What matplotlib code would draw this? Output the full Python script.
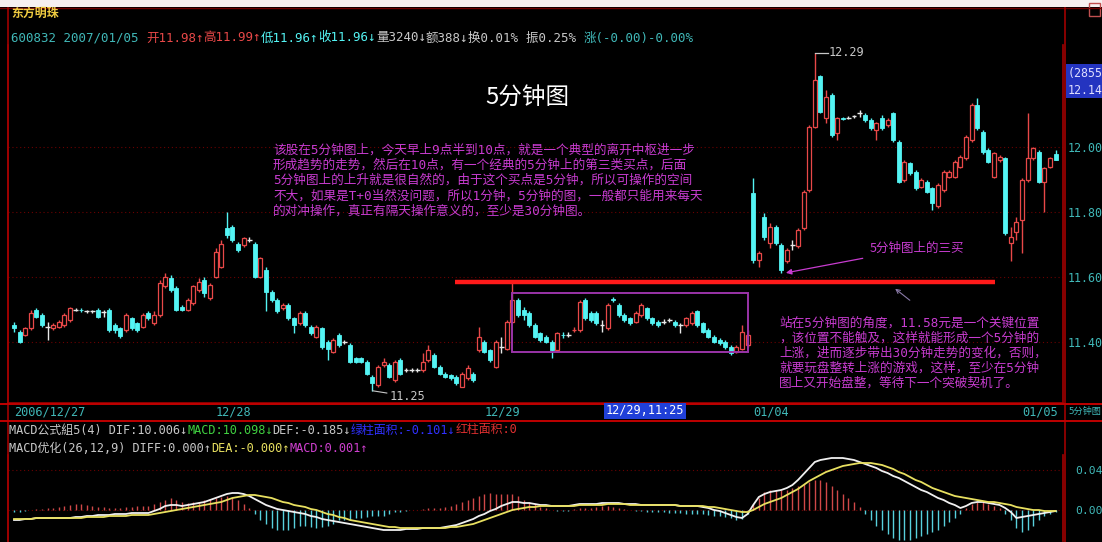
import numpy as np
import matplotlib
matplotlib.use('Agg')
import matplotlib.pyplot as plt
from matplotlib.patches import Rectangle
from matplotlib.lines import Line2D

# ---------------- data ----------------
stock_name = '东方明珠'
stock_code = '600832'
quote_date = '2007/01/05'
session_starts = [0, 36, 84, 132, 180]
session_labels = ['2006/12/27', '12/28', '12/29', '01/04', '01/05']
price_ticks = [11.4, 11.6, 11.8, 12.0]
key_level = 11.585

opens = [11.452, 11.432, 11.422, 11.442, 11.499, 11.483, 11.447, 11.442, 11.447, 11.452,
         11.468, 11.500, 11.499, 11.495, 11.494, 11.499, 11.493, 11.499, 11.452, 11.442,
         11.437, 11.473, 11.458, 11.447, 11.488, 11.458, 11.483, 11.571, 11.596, 11.565,
         11.509, 11.499, 11.519, 11.560, 11.591, 11.535, 11.601, 11.632, 11.750, 11.755,
         11.703, 11.698, 11.716, 11.703, 11.601, 11.622, 11.555, 11.530, 11.504, 11.514,
         11.473, 11.458, 11.488, 11.447, 11.416, 11.442, 11.401, 11.370, 11.421, 11.402,
         11.391, 11.350, 11.350, 11.339, 11.293, 11.268, 11.329, 11.329, 11.283, 11.344,
         11.315, 11.314, 11.315, 11.314, 11.344, 11.360, 11.324, 11.303, 11.298, 11.293,
         11.262, 11.288, 11.303, 11.375, 11.401, 11.375, 11.324, 11.386, 11.380, 11.463,
         11.530, 11.499, 11.488, 11.452, 11.427, 11.416, 11.401, 11.375, 11.423, 11.421,
         11.436, 11.437, 11.530, 11.488, 11.488, 11.453, 11.442, 11.531, 11.514, 11.483,
         11.473, 11.463, 11.483, 11.504, 11.473, 11.463, 11.464, 11.468, 11.463, 11.453,
         11.452, 11.458, 11.494, 11.458, 11.437, 11.416, 11.406, 11.401, 11.385, 11.370,
         11.380, 11.391, 11.858, 11.653, 11.786, 11.704, 11.755, 11.699, 11.648, 11.700,
         11.694, 11.750, 11.868, 12.063, 12.217, 12.088, 12.160, 12.042, 12.089, 12.091,
         12.093, 12.103, 12.099, 12.083, 12.052, 12.088, 12.068, 12.104, 12.016, 11.899,
         11.950, 11.924, 11.878, 11.893, 11.873, 11.817, 11.868, 11.909, 11.909, 11.939,
         11.965, 12.022, 12.129, 12.047, 11.991, 11.909, 11.960, 11.965, 11.704, 11.740,
         11.776, 11.899, 11.965, 11.986, 11.893, 11.939, 11.980]

highs = [11.462, 11.437, 11.447, 11.498, 11.504, 11.488, 11.463, 11.458, 11.468, 11.488,
         11.509, 11.506, 11.504, 11.500, 11.500, 11.504, 11.499, 11.504, 11.458, 11.447,
         11.488, 11.478, 11.463, 11.488, 11.494, 11.494, 11.591, 11.612, 11.606, 11.571,
         11.514, 11.535, 11.576, 11.596, 11.601, 11.581, 11.688, 11.714, 11.801, 11.760,
         11.708, 11.724, 11.724, 11.708, 11.662, 11.630, 11.560, 11.535, 11.519, 11.519,
         11.478, 11.494, 11.494, 11.452, 11.452, 11.447, 11.406, 11.411, 11.427, 11.406,
         11.396, 11.355, 11.355, 11.344, 11.298, 11.329, 11.350, 11.334, 11.344, 11.350,
         11.319, 11.320, 11.321, 11.365, 11.391, 11.365, 11.329, 11.308, 11.303, 11.298,
         11.308, 11.329, 11.308, 11.447, 11.406, 11.380, 11.406, 11.416, 11.468, 11.586,
         11.535, 11.509, 11.494, 11.458, 11.432, 11.421, 11.406, 11.432, 11.432, 11.430,
         11.445, 11.530, 11.535, 11.494, 11.494, 11.468, 11.519, 11.540, 11.519, 11.488,
         11.478, 11.494, 11.519, 11.509, 11.478, 11.468, 11.470, 11.475, 11.468, 11.458,
         11.478, 11.494, 11.499, 11.463, 11.442, 11.421, 11.411, 11.406, 11.391, 11.391,
         11.452, 11.437, 11.904, 11.680, 11.796, 11.765, 11.760, 11.704, 11.688, 11.714,
         11.750, 11.868, 12.068, 12.290, 12.222, 12.175, 12.165, 12.093, 12.093, 12.096,
         12.099, 12.114, 12.104, 12.088, 12.078, 12.099, 12.088, 12.109, 12.022, 11.960,
         11.955, 11.929, 11.904, 11.899, 11.878, 11.888, 11.929, 11.929, 11.960, 11.975,
         12.037, 12.134, 12.150, 12.052, 11.996, 11.986, 11.975, 11.970, 11.755, 11.786,
         11.904, 12.104, 12.001, 11.991, 11.939, 11.970, 11.990]

lows = [11.432, 11.398, 11.417, 11.437, 11.473, 11.447, 11.406, 11.437, 11.442, 11.447,
        11.463, 11.494, 11.492, 11.488, 11.489, 11.473, 11.478, 11.432, 11.427, 11.412,
        11.432, 11.437, 11.432, 11.442, 11.468, 11.452, 11.478, 11.565, 11.555, 11.494,
        11.494, 11.494, 11.514, 11.555, 11.540, 11.530, 11.596, 11.627, 11.719, 11.708,
        11.678, 11.693, 11.708, 11.596, 11.596, 11.494, 11.524, 11.488, 11.499, 11.468,
        11.427, 11.452, 11.447, 11.421, 11.411, 11.380, 11.344, 11.365, 11.385, 11.395,
        11.334, 11.334, 11.334, 11.298, 11.250, 11.262, 11.324, 11.288, 11.278, 11.298,
        11.308, 11.309, 11.308, 11.309, 11.339, 11.319, 11.298, 11.288, 11.283, 11.268,
        11.262, 11.283, 11.278, 11.370, 11.365, 11.339, 11.319, 11.365, 11.375, 11.458,
        11.478, 11.468, 11.447, 11.411, 11.401, 11.396, 11.350, 11.370, 11.411, 11.414,
        11.430, 11.432, 11.468, 11.463, 11.452, 11.432, 11.437, 11.524, 11.478, 11.463,
        11.452, 11.458, 11.478, 11.468, 11.452, 11.447, 11.456, 11.462, 11.447, 11.427,
        11.447, 11.452, 11.447, 11.427, 11.411, 11.396, 11.391, 11.380, 11.360, 11.365,
        11.375, 11.385, 11.643, 11.630, 11.714, 11.690, 11.699, 11.612, 11.643, 11.683,
        11.688, 11.745, 11.863, 12.057, 12.104, 12.073, 12.032, 12.022, 12.083, 12.085,
        12.088, 12.093, 12.078, 12.052, 12.022, 12.052, 12.063, 12.016, 11.888, 11.893,
        11.914, 11.868, 11.873, 11.858, 11.806, 11.812, 11.863, 11.904, 11.904, 11.934,
        11.960, 12.016, 12.052, 11.980, 11.950, 11.904, 11.955, 11.729, 11.648, 11.714,
        11.673, 11.893, 11.960, 11.888, 11.801, 11.934, 11.960]

closes = [11.442, 11.401, 11.442, 11.488, 11.478, 11.452, 11.445, 11.452, 11.463, 11.483,
          11.504, 11.499, 11.497, 11.494, 11.495, 11.478, 11.492, 11.437, 11.437, 11.417,
          11.483, 11.442, 11.437, 11.483, 11.473, 11.483, 11.581, 11.601, 11.560, 11.499,
          11.499, 11.530, 11.571, 11.586, 11.550, 11.576, 11.678, 11.703, 11.729, 11.714,
          11.683, 11.719, 11.714, 11.601, 11.657, 11.555, 11.530, 11.494, 11.514, 11.473,
          11.452, 11.488, 11.452, 11.427, 11.447, 11.385, 11.380, 11.406, 11.391, 11.400,
          11.339, 11.339, 11.339, 11.303, 11.273, 11.324, 11.339, 11.293, 11.339, 11.303,
          11.313, 11.315, 11.314, 11.339, 11.375, 11.324, 11.303, 11.293, 11.288, 11.273,
          11.303, 11.319, 11.283, 11.416, 11.370, 11.344, 11.401, 11.384, 11.463, 11.530,
          11.483, 11.483, 11.452, 11.416, 11.406, 11.401, 11.375, 11.427, 11.421, 11.422,
          11.438, 11.524, 11.473, 11.468, 11.458, 11.451, 11.514, 11.529, 11.483, 11.468,
          11.458, 11.488, 11.514, 11.473, 11.458, 11.452, 11.463, 11.469, 11.452, 11.452,
          11.473, 11.488, 11.452, 11.432, 11.416, 11.401, 11.396, 11.385, 11.365, 11.385,
          11.432, 11.421, 11.653, 11.673, 11.724, 11.755, 11.704, 11.622, 11.683, 11.698,
          11.745, 11.863, 12.063, 12.206, 12.109, 12.155, 12.037, 12.088, 12.087, 12.090,
          12.094, 12.104, 12.083, 12.057, 12.073, 12.057, 12.083, 12.022, 11.893, 11.955,
          11.919, 11.873, 11.899, 11.863, 11.827, 11.883, 11.924, 11.924, 11.955, 11.970,
          12.032, 12.129, 12.057, 11.986, 11.955, 11.980, 11.970, 11.734, 11.724, 11.770,
          11.899, 11.965, 11.996, 11.893, 11.934, 11.965, 11.960]

diff = [-0.010, -0.010, -0.009, -0.009, -0.008, -0.008, -0.008, -0.008, -0.008, -0.008,
        -0.008, -0.007, -0.007, -0.006, -0.006, -0.005, -0.005, -0.005, -0.004, -0.004,
        -0.004, -0.003, -0.003, -0.003, -0.003, -0.001, 0.001, 0.004, 0.005, 0.005,
        0.004, 0.005, 0.006, 0.007, 0.008, 0.010, 0.012, 0.014, 0.016, 0.017,
        0.017, 0.016, 0.014, 0.011, 0.008, 0.005, 0.003, 0.001, 0.000, -0.001,
        -0.002, -0.003, -0.004, -0.006, -0.007, -0.009, -0.010, -0.011, -0.012, -0.013,
        -0.014, -0.015, -0.016, -0.017, -0.018, -0.019, -0.020, -0.020, -0.020, -0.020,
        -0.019, -0.019, -0.019, -0.018, -0.018, -0.018, -0.018, -0.017, -0.016, -0.015,
        -0.013, -0.011, -0.009, -0.006, -0.004, -0.001, 0.001, 0.004, 0.006, 0.008,
        0.008, 0.007, 0.007, 0.006, 0.005, 0.005, 0.004, 0.004, 0.004, 0.004,
        0.005, 0.006, 0.006, 0.006, 0.006, 0.007, 0.007, 0.007, 0.007, 0.006,
        0.006, 0.006, 0.005, 0.005, 0.005, 0.005, 0.005, 0.005, 0.005, 0.004,
        0.004, 0.004, 0.004, 0.003, 0.002, 0.000, -0.001, -0.003, -0.005, -0.007,
        -0.008, -0.004, 0.005, 0.013, 0.016, 0.018, 0.019, 0.020, 0.022, 0.025,
        0.030, 0.036, 0.042, 0.048, 0.050, 0.051, 0.052, 0.052, 0.052, 0.051,
        0.050, 0.048, 0.046, 0.044, 0.042, 0.039, 0.037, 0.034, 0.032, 0.029,
        0.026, 0.023, 0.020, 0.018, 0.015, 0.012, 0.010, 0.007, 0.005, 0.002,
        0.004, 0.007, 0.008, 0.008, 0.007, 0.006, 0.005, 0.002, -0.002, -0.008,
        -0.007, -0.006, -0.005, -0.004, -0.003, -0.002, -0.001]

dea = [-0.009, -0.009, -0.009, -0.009, -0.008, -0.008, -0.008, -0.008, -0.008, -0.008,
       -0.008, -0.008, -0.008, -0.007, -0.007, -0.007, -0.007, -0.006, -0.006, -0.006,
       -0.006, -0.005, -0.005, -0.005, -0.005, -0.004, -0.003, -0.002, -0.001, 0.000,
       0.001, 0.002, 0.003, 0.004, 0.005, 0.006, 0.007, 0.008, 0.010, 0.012,
       0.013, 0.014, 0.015, 0.015, 0.014, 0.013, 0.012, 0.010, 0.008, 0.007,
       0.005, 0.004, 0.003, 0.001, 0.000, -0.002, -0.004, -0.005, -0.007, -0.008,
       -0.010, -0.011, -0.012, -0.013, -0.014, -0.015, -0.016, -0.017, -0.017, -0.018,
       -0.018, -0.018, -0.018, -0.018, -0.018, -0.018, -0.018, -0.018, -0.017, -0.017,
       -0.016, -0.015, -0.014, -0.012, -0.010, -0.008, -0.006, -0.004, -0.002, 0.000,
       0.001, 0.002, 0.003, 0.003, 0.004, 0.004, 0.004, 0.004, 0.004, 0.004,
       0.004, 0.005, 0.005, 0.005, 0.005, 0.005, 0.006, 0.006, 0.006, 0.006,
       0.005, 0.005, 0.005, 0.005, 0.005, 0.005, 0.005, 0.005, 0.005, 0.004,
       0.004, 0.004, 0.004, 0.004, 0.003, 0.003, 0.002, 0.001, 0.000, -0.001,
       -0.002, -0.002, 0.000, 0.003, 0.006, 0.008, 0.010, 0.012, 0.015, 0.018,
       0.021, 0.025, 0.029, 0.032, 0.035, 0.038, 0.040, 0.042, 0.044, 0.045,
       0.046, 0.047, 0.047, 0.047, 0.046, 0.045, 0.043, 0.041, 0.038, 0.036,
       0.033, 0.030, 0.028, 0.025, 0.022, 0.020, 0.018, 0.016, 0.014, 0.013,
       0.012, 0.011, 0.010, 0.009, 0.008, 0.008, 0.007, 0.006, 0.005, 0.003,
       0.002, 0.001, 0.000, 0.000, -0.001, -0.001, -0.001]

macd_bar = [-0.002, -0.002, -0.001, 0.000, 0.001, 0.001, 0.002, 0.002, 0.003, 0.004,
            0.005, 0.006, 0.006, 0.005, 0.004, 0.003, 0.003, 0.002, 0.002, 0.002,
            0.003, 0.003, 0.004, 0.004, 0.004, 0.006, 0.008, 0.010, 0.012, 0.010,
            0.008, 0.007, 0.008, 0.008, 0.010, 0.011, 0.012, 0.013, 0.014, 0.012,
            0.010, 0.006, 0.002, -0.004, -0.010, -0.014, -0.018, -0.020, -0.020, -0.020,
            -0.018, -0.016, -0.016, -0.017, -0.018, -0.017, -0.016, -0.014, -0.010, -0.010,
            -0.010, -0.008, -0.008, -0.007, -0.006, -0.006, -0.006, -0.004, -0.002, -0.002,
            -0.001, 0.000, 0.000, 0.001, 0.002, 0.002, 0.002, 0.003, 0.004, 0.006,
            0.008, 0.010, 0.012, 0.014, 0.016, 0.017, 0.016, 0.016, 0.016, 0.016,
            0.014, 0.010, 0.008, 0.006, 0.003, 0.002, 0.000, -0.001, -0.001, -0.001,
            0.001, 0.002, 0.002, 0.002, 0.003, 0.004, 0.004, 0.003, 0.002, 0.001,
            0.000, -0.001, -0.001, -0.002, -0.002, -0.002, -0.002, -0.003, -0.003, -0.003,
            -0.004, -0.004, -0.004, -0.004, -0.005, -0.006, -0.006, -0.007, -0.008, -0.010,
            -0.009, -0.004, 0.006, 0.012, 0.018, 0.020, 0.020, 0.020, 0.020, 0.022,
            0.024, 0.026, 0.028, 0.030, 0.030, 0.028, 0.024, 0.020, 0.016, 0.012,
            0.008, 0.003, -0.004, -0.010, -0.016, -0.020, -0.024, -0.028, -0.030, -0.030,
            -0.030, -0.028, -0.026, -0.024, -0.022, -0.020, -0.016, -0.012, -0.008, -0.004,
            0.002, 0.006, 0.008, 0.008, 0.006, 0.004, 0.002, -0.004, -0.010, -0.018,
            -0.022, -0.020, -0.016, -0.010, -0.006, -0.004, -0.002]

macd_ticks = [0.0, 0.04]

title_text = '5分钟图'
note1_lines = ['该股在5分钟图上，今天早上9点半到10点，就是一个典型的离开中枢进一步',
               '形成趋势的走势，然后在10点，有一个经典的5分钟上的第三类买点，后面',
               '5分钟图上的上升就是很自然的，由于这个买点是5分钟，所以可操作的空间',
               '不大，如果是T+0当然没问题，所以1分钟，5分钟的图，一般都只能用来每天',
               '的对冲操作，真正有隔天操作意义的，至少是30分钟图。']
note2_lines = ['站在5分钟图的角度，11.58元是一个关键位置',
               '，该位置不能触及，这样就能形成一个5分钟的',
               '上涨，进而逐步带出30分钟走势的变化，否则，',
               '就要玩盘整转上涨的游戏，这样，至少在5分钟',
               '图上又开始盘整，等待下一个突破契机了。']
buy3_label = '5分钟图上的三买'

# ---------------- styling ----------------
W, H = 1102, 542
MONO = ['DejaVu Sans Mono', 'Noto Sans CJK SC']
CJK = ['Noto Sans CJK SC', 'DejaVu Sans']
plt.rcParams['font.family'] = MONO

RED = '#e84848'
CYAN = '#54f4f4'
TEAL = '#40b8b8'
GREY = '#c8c8c8'
MAG = '#c83cd0'
DARKRED = '#a00000'

fig = plt.figure(figsize=(W / 100, H / 100), dpi=100, facecolor='black')


def fx(x):
    return x / W


def fy(y):
    return 1 - y / H


n = len(closes)
xs = np.arange(n)
o = np.array(opens); c = np.array(closes); h = np.array(highs); l = np.array(lows)
x_lo = (8 - 14) / 5.6
x_hi = (1063 - 14) / 5.6

# ---------------- price panel ----------------
ax = fig.add_axes([fx(8), fy(403), fx(1063) - fx(8), fy(45) - fy(403)])
ax.set_facecolor('black')
ax.set_xlim(x_lo, x_hi)
ax.set_ylim(12 - (403 - 147) / 325, 12 + (147 - 45) / 325)

doji = np.abs(c - o) <= 0.002
up = (c > o) & ~doji
dn = (c < o) & ~doji

for mask, col in [(up, RED), (dn, CYAN), (doji, '#e8e8e8')]:
    ax.vlines(xs[mask], l[mask], h[mask], color=col, lw=1.0, zorder=2)
ax.bar(xs[up], (c - o)[up], bottom=o[up], width=0.72, facecolor='black',
       edgecolor=RED, linewidth=0.9, zorder=3)
ax.bar(xs[dn], (o - c)[dn], bottom=c[dn], width=0.72, facecolor=CYAN,
       edgecolor=CYAN, linewidth=0.6, zorder=3)
ax.hlines(c[doji], xs[doji] - 0.42, xs[doji] + 0.42, color='#e8e8e8', lw=1.0, zorder=3)

ax.set_yticks(price_ticks)
ax.set_yticklabels([f'{v:.2f}' for v in price_ticks])
ax.yaxis.tick_right()
ax.tick_params(axis='y', length=0, pad=3.6, labelcolor=TEAL, labelsize=8.4)
ax.grid(axis='y', color='#6a0000', linestyle=(0, (1, 2.5)), lw=0.8)
ax.set_xticks(session_starts)
ax.set_xticklabels(session_labels)
ax.tick_params(axis='x', length=0, pad=1.5, labelcolor=TEAL, labelsize=8.6)
for t in ax.get_xticklabels():
    t.set_ha('left')
for s in ['left', 'right', 'bottom']:
    ax.spines[s].set_color(DARKRED)
    ax.spines[s].set_linewidth(1.2)
ax.spines['top'].set_visible(False)

# key level and consolidation box
ax.hlines(key_level, 78.8, 175.2, color='#ff1a1a', lw=3.2, zorder=4)
ax.add_patch(Rectangle((89.0, 11.37), 42.1, 0.18, fill=False,
                       edgecolor='#9a34a8', lw=1.4, zorder=4))

# extreme labels
i_hi = int(np.argmax(h))
ax.plot([i_hi, i_hi + 2.3], [h[i_hi], h[i_hi]], color=GREY, lw=0.9, zorder=4)
ax.text(i_hi + 2.5, h[i_hi], f'{h[i_hi]:.2f}', color=GREY, fontsize=8.6,
        va='center', ha='left')
i_lo = int(np.argmin(l))
ax.annotate(f'{l[i_lo]:.2f}', xy=(i_lo, l[i_lo]), xytext=(12.5, -4),
            textcoords='offset points', color=GREY, fontsize=8.6, va='center',
            ha='left', annotation_clip=False,
            arrowprops=dict(arrowstyle='-', color=GREY, lw=0.8, shrinkA=0, shrinkB=0))

# third buy point arrow
i_b3 = 132 + int(np.argmin(l[132:180]))
ax.annotate(buy3_label, xy=(i_b3 + 0.6, l[i_b3]), xytext=(870, H - 248),
            textcoords='figure pixels', color=MAG, fontsize=9.0, family=CJK,
            va='center', ha='left', annotation_clip=False,
            arrowprops=dict(arrowstyle='-|>', color=MAG, lw=0.9, shrinkA=4,
                            shrinkB=1, mutation_scale=8))
ax.annotate('', xy=(893, H - 287), xycoords='figure pixels',
            xytext=(912, H - 302), textcoords='figure pixels',
            arrowprops=dict(arrowstyle='->', color='#8a7aa8', lw=0.8, mutation_scale=7))

# ---------------- MACD panel ----------------
mx = fig.add_axes([fx(8), fy(541), fx(1063) - fx(8), fy(455) - fy(541)])
mx.set_facecolor('black')
mx.set_xlim(x_lo, x_hi)
mx.set_ylim((510 - 541) / 1000, (510 - 455) / 1000)
mb = np.array(macd_bar)
mx.vlines(xs[mb > 0], 0, mb[mb > 0], color='#d04848', lw=1.0)
mx.vlines(xs[mb < 0], mb[mb < 0], 0, color='#58d0dc', lw=1.0)
mx.plot(xs, diff, color='#f0f0f0', lw=1.3, zorder=3)
mx.plot(xs, dea, color='#e8e060', lw=1.3, zorder=3)
mx.set_yticks(macd_ticks)
mx.set_yticklabels([f'{v:.2f}' for v in macd_ticks])
mx.yaxis.tick_right()
mx.tick_params(axis='y', length=0, pad=8.5, labelcolor=TEAL, labelsize=8.2)
mx.set_xticks([])
mx.grid(axis='y', color='#6a0000', linestyle=(0, (1, 2.5)), lw=0.8)
for s in ['left', 'right']:
    mx.spines[s].set_color(DARKRED)
    mx.spines[s].set_linewidth(1.2)
mx.spines['top'].set_visible(False)
mx.spines['bottom'].set_visible(False)

# ---------------- frame decorations ----------------
fig.patches.append(Rectangle((0, fy(7)), 1, 1 - fy(7), transform=fig.transFigure,
                             facecolor='#f6f0f0', edgecolor='none', zorder=0))
fig.patches.append(Rectangle((fx(1066), fy(98)), fx(1102) - fx(1066), fy(64) - fy(98),
                             transform=fig.transFigure, facecolor='#2434c0',
                             edgecolor='none', zorder=1))
fig.patches.append(Rectangle((fx(1089), fy(16)), fx(1100) - fx(1089), fy(3) - fy(16),
                             transform=fig.transFigure, facecolor='none',
                             edgecolor='#c05050', lw=1, zorder=1))
for (x0, y0, x1, y1, col, lw) in [(0, 8, 1102, 8, '#700000', 1.0),
                                   (8, 8, 8, 542, DARKRED, 1.2),
                                   (1065, 8, 1065, 542, DARKRED, 1.2),
                                   (0, 404, 1102, 404, '#c00000', 1.4),
                                   (0, 421, 1102, 421, '#c00000', 1.4)]:
    fig.lines.append(Line2D([fx(x0), fx(x1)], [fy(y0), fy(y1)], transform=fig.transFigure,
                            color=col, lw=lw))


def chain(x, y, parts, size=8.6):
    prev = fig.text(fx(x), fy(y), parts[0][0], color=parts[0][1], fontsize=size,
                    va='center', ha='left')
    for s, col in parts[1:]:
        prev = ax.annotate(s, xy=(1, 0.5), xycoords=prev, va='center', ha='left',
                           color=col, fontsize=size, annotation_clip=False)
    return prev


fig.text(fx(11), fy(13), stock_name, color='#f0cc40', fontsize=8.6, va='center',
         ha='left', fontweight='bold')
chain(11, 38, [(f'{stock_code} {quote_date} ', TEAL),
               (f'开{opens[-1]:.2f}↑', RED),
               (f'高{highs[-1]:.2f}↑', RED),
               (f'低{lows[-1]:.2f}↑', CYAN),
               (f'收{closes[-1]:.2f}↓', CYAN),
               ('量3240↓', GREY), ('额388↓', GREY), ('换0.01% ', GREY),
               ('振0.25% ', GREY), ('涨(-0.00)-0.00%', TEAL)], size=9.0)
chain(9, 430, [('MACD公式組5(4) DIF:10.006↓', GREY), ('MACD:10.098↓', '#40d040'),
               ('DEF:-0.185↓', GREY), ('绿柱面积:-0.101↓', '#3030ff'),
               ('红柱面积:0', '#e03030')])
chain(9, 448, [('MACD优化(26,12,9) DIFF:0.000↑', GREY), ('DEA:-0.000↑', '#e8e060'),
               ('MACD:0.001↑', '#d040d0')])

fig.text(fx(1068), fy(74), '(2855', color='#e0e0ff', fontsize=8.4, va='center', ha='left')
fig.text(fx(1068), fy(90), f'{12.14:.2f}', color='#e0e0ff', fontsize=8.4, va='center',
         ha='left')
fig.text(fx(1068), fy(411), title_text, color=TEAL, fontsize=6.6, va='center', ha='left')
fig.text(fx(606), fy(411), '12/29,11:25', color='white', fontsize=8.6, va='center',
         ha='left', bbox=dict(boxstyle='square,pad=0.15', facecolor='#2040d8',
                              edgecolor='none'))

fig.text(fx(527), fy(97), title_text, color='white', fontsize=17, family=CJK,
         va='center', ha='center')
for k, line in enumerate(note1_lines):
    fig.text(fx(273), fy(150 + 15.3 * k), line, color=MAG, fontsize=9.1,
             va='center', ha='left')
for k, line in enumerate(note2_lines):
    fig.text(fx(779), fy(323 + 15 * k), line, color=MAG, fontsize=9.1,
             va='center', ha='left')

fig.savefig('out.png', dpi=100, facecolor='black')
